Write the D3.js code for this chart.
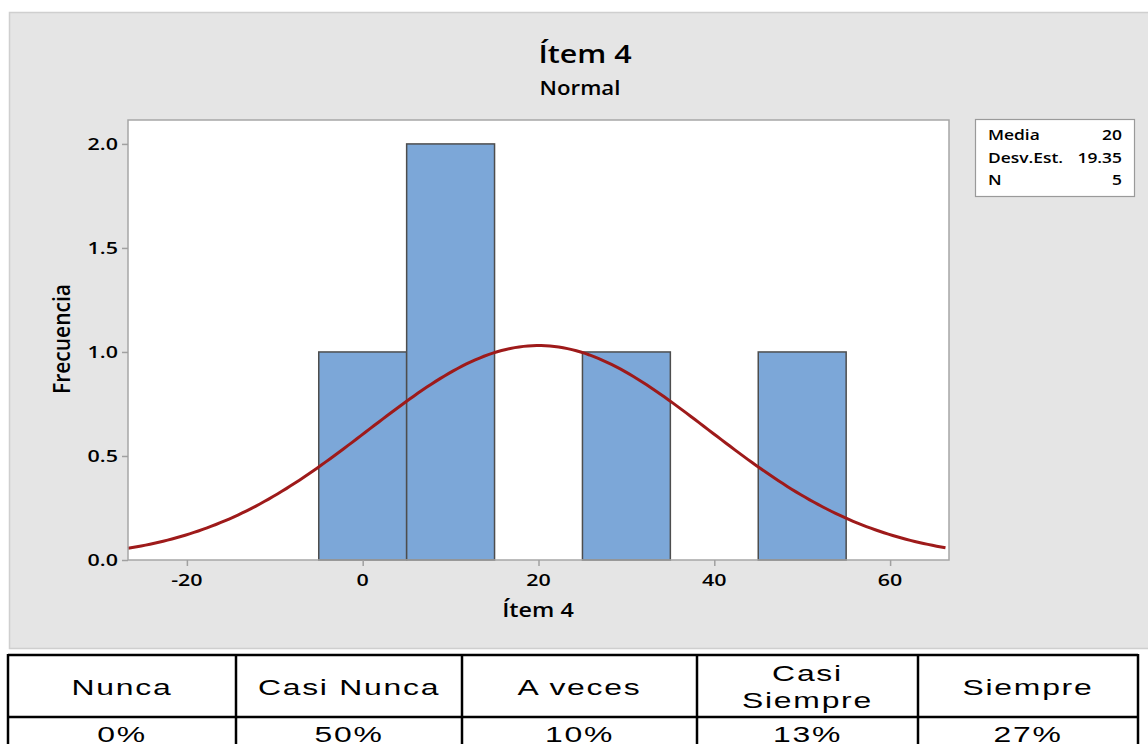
<!DOCTYPE html>
<html><head><meta charset="utf-8">
<script src="https://cdn.jsdelivr.net/npm/d3@7"></script>
<style>html,body{margin:0;padding:0;background:#fff;}svg{display:block;}</style>
</head><body>
<svg id="c" width="1148" height="744"></svg>
<script>
// ---- data ----
const binStarts = [-5, 5, 15, 25, 35, 45];
const binEnds   = [5, 15, 25, 35, 45, 55];
const binCounts = [1, 2, 0, 1, 0, 1];
const xTicks = [-20, 0, 20, 40, 60];
const yTicks = [0, 0.5, 1.0, 1.5, 2.0];
const statLabels = ["Media", "Desv.Est.", "N"];
const statValues = ["20", "19.35", "5"];
const fitMean = 20, fitSd = 19.35, fitN = 5, binWidth = 10;
const tableHeaders = [["Nunca"], ["Casi Nunca"], ["A veces"], ["Casi", "Siempre"], ["Siempre"]];
const tableValues = ["0%", "50%", "10%", "13%", "27%"];

const svg = d3.select("#c");
const F = "'Open Sans', 'Noto Sans', sans-serif";
const SX = 1.3;

function stext(g, x, y, str, opts) {
  opts = opts || {};
  const sx = opts.sx || SX;
  const gg = g.append("g").attr("transform", `translate(${x},${y}) scale(${sx},1)` + (opts.rot ? ` rotate(${opts.rot})` : ""));
  return gg.append("text").attr("x", 0).attr("y", 0)
    .attr("text-anchor", opts.anchor || "middle")
    .attr("font-family", opts.family || F)
    .attr("font-weight", opts.weight || 600)
    .attr("font-size", opts.size || 16)
    .attr("letter-spacing", opts.ls || 0)
    .attr("fill", "#000")
    .text(str);
}

// panel
svg.append("rect").attr("x", 9.5).attr("y", 12.5).attr("width", 1150).attr("height", 636)
  .attr("fill", "#e5e5e5").attr("stroke", "#cfcfcf").attr("stroke-width", 1.5);

const x = d3.scaleLinear().domain([-26.7, 66.7]).range([128, 949]);
const y = d3.scaleLinear().domain([0, 2.115]).range([560, 120]);

svg.append("rect").attr("x", 128).attr("y", 120).attr("width", 821).attr("height", 440)
  .attr("fill", "#fff");

// bars
svg.append("g").selectAll("rect").data(binCounts).join("rect")
  .attr("x", (d, i) => x(binStarts[i]))
  .attr("width", (d, i) => x(binEnds[i]) - x(binStarts[i]))
  .attr("y", d => y(d))
  .attr("height", d => y(0) - y(d))
  .attr("fill", "#7ca7d8")
  .attr("stroke", "#4d4d4d").attr("stroke-width", 1.5);

// fitted normal curve
const pts = d3.range(-26.7, 66.71, 0.5).map(v => [v, fitN * binWidth * Math.exp(-0.5 * ((v - fitMean) / fitSd) ** 2) / (fitSd * Math.sqrt(2 * Math.PI))]);
svg.append("path").datum(pts)
  .attr("d", d3.line().x(d => x(d[0])).y(d => y(d[1])))
  .attr("fill", "none").attr("stroke", "#9e1a1a").attr("stroke-width", 3);

// frame
svg.append("rect").attr("x", 128).attr("y", 120).attr("width", 821).attr("height", 440)
  .attr("fill", "none").attr("stroke", "#a6a6a6").attr("stroke-width", 1.5);

// axes
const xa = svg.append("g").attr("transform", "translate(0,560)")
  .call(d3.axisBottom(x).tickValues(xTicks).tickSize(6).tickFormat(d3.format("d")));
xa.select(".domain").remove();
xa.selectAll("line").attr("stroke", "#a0a0a0").attr("stroke-width", 1.5);
xa.selectAll("text").remove();
xTicks.forEach(t => stext(svg, x(t), 586, t, {size: 16.5}));

const ya = svg.append("g").attr("transform", "translate(128,0)")
  .call(d3.axisLeft(y).tickValues(yTicks).tickSize(6).tickFormat(d3.format(".1f")));
ya.select(".domain").remove();
ya.selectAll("line").attr("stroke", "#a0a0a0").attr("stroke-width", 1.5);
ya.selectAll("text").remove();
yTicks.forEach(t => stext(svg, 118, y(t) + 6, d3.format(".1f")(t), {size: 16.5, anchor: "end"}));

// titles
stext(svg, 585, 63, "Ítem 4", {size: 26, sx: 1.17});
stext(svg, 580, 95, "Normal", {size: 19, sx: 1.17});
stext(svg, 538, 617, "Ítem 4", {size: 20, sx: 1.17});
stext(svg, 70, 339, "Frecuencia", {size: 21, rot: -90, sx: 1.15});

// legend
svg.append("rect").attr("x", 975.5).attr("y", 119.5).attr("width", 159).attr("height", 77)
  .attr("fill", "#fff").attr("stroke", "#9a9a9a").attr("stroke-width", 1.2);
statLabels.forEach((s, i) => {
  stext(svg, 988, 140 + i * 22.5, s, {size: 14.5, anchor: "start", sx: 1.2});
  stext(svg, 1122, 140 + i * 22.5, statValues[i], {size: 14.5, anchor: "end", sx: 1.2});
});

// table
const cols = [8, 236, 462, 697, 918, 1138];
const TF = "'Liberation Sans', Arial, sans-serif";
const tg = svg.append("g");
tg.append("rect").attr("x", 0).attr("y", 652).attr("width", 1148).attr("height", 92).attr("fill", "#fff");
tableHeaders.forEach((lines, i) => {
  const cx = (cols[i] + cols[i + 1]) / 2;
  const o = {size: 22, family: TF, weight: 400, sx: 1.45, ls: 1.2};
  if (lines.length === 1) {
    stext(tg, cx, 695, lines[0], o);
  } else {
    stext(tg, cx, 681, lines[0], o);
    stext(tg, cx, 708, lines[1], o);
  }
  stext(tg, cx, 742, tableValues[i], o);
});
tg.append("line").attr("x1", cols[0]).attr("x2", cols[5]).attr("y1", 655).attr("y2", 655).attr("stroke", "#000").attr("stroke-width", 2.5);
tg.append("line").attr("x1", cols[0]).attr("x2", cols[5]).attr("y1", 717).attr("y2", 717).attr("stroke", "#000").attr("stroke-width", 2.5);
cols.forEach(c => tg.append("line").attr("x1", c).attr("x2", c).attr("y1", 654).attr("y2", 744).attr("stroke", "#000").attr("stroke-width", 2.5));
</script>
</body></html>
